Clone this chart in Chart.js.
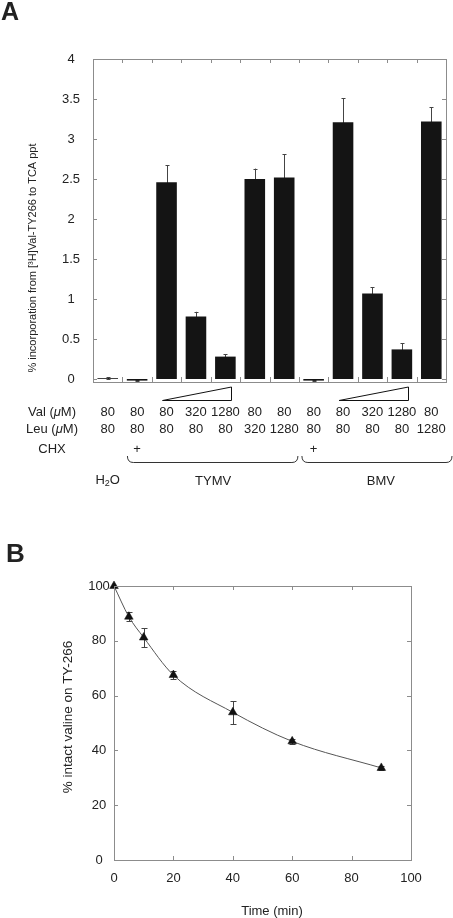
<!DOCTYPE html>
<html>
<head>
<meta charset="utf-8">
<script src="https://cdn.jsdelivr.net/npm/chart.js@4.4.1/dist/chart.umd.min.js"></script>
<style>
  body { margin: 0; background: #fff; }
  #wrapA { position: absolute; left: 0; top: 0; width: 453px; height: 520px; }
  #wrapB { position: absolute; left: 0; top: 520px; width: 453px; height: 398px; }
</style>
</head>
<body>
<div id="wrapA"><canvas id="chartA"></canvas></div>
<div id="wrapB"><canvas id="chartB"></canvas></div>
<script>
// --- Panel A data ---
const conditions = ['H2O', 'TYMV+CHX', 'TYMV', 'TYMV', 'TYMV', 'TYMV', 'TYMV', 'BMV+CHX', 'BMV', 'BMV', 'BMV', 'BMV'];
const incorporation = [0.01, -0.02, 2.46, 0.78, 0.28, 2.50, 2.52, -0.02, 3.21, 1.07, 0.37, 3.22];
const incorporationErr = [0.015, 0.01, 0.21, 0.06, 0.03, 0.13, 0.29, 0.01, 0.30, 0.08, 0.08, 0.18];
const valConc = ['80', '80', '80', '320', '1280', '80', '80', '80', '80', '320', '1280', '80'];
const leuConc = ['80', '80', '80', '80', '80', '320', '1280', '80', '80', '80', '80', '1280'];
const chxFlags = ['', '+', '', '', '', '', '', '+', '', '', '', ''];
const yTicksA = [0, 0.5, 1, 1.5, 2, 2.5, 3, 3.5, 4];

// --- Panel B data ---
const timeMin = [0, 5, 10, 20, 40, 60, 90];
const intactValine = [100, 88.8, 81.2, 67.5, 53.9, 43.3, 33.6];
const intactErr = [0, 1.7, 3.6, 1.5, 4.1, 1.0, 0.7];
const xTicksB = [0, 20, 40, 60, 80, 100];
const yTicksB = [0, 20, 40, 60, 80, 100];

const FONT = '"Liberation Sans", Arial, Helvetica, sans-serif';
const TEXT = '#222';
const AXIS = '#8c8c8c';

// draws pieces of text (some italic) centred on cx
function drawMixed(ctx, parts, cx, y, size) {
    let widths = parts.map(p => {
        ctx.font = (p.italic ? 'italic ' : '') + size + 'px ' + FONT;
        return ctx.measureText(p.t).width;
    });
    let x = cx - widths.reduce((s, w) => s + w, 0) / 2;
    ctx.textAlign = 'left';
    parts.forEach((p, i) => {
        ctx.font = (p.italic ? 'italic ' : '') + size + 'px ' + FONT;
        ctx.fillText(p.t, x, y);
        x += widths[i];
    });
}

function frame(ctx, a) {
    ctx.strokeStyle = AXIS;
    ctx.lineWidth = 1;
    ctx.strokeRect(Math.round(a.left) + 0.5, Math.round(a.top) + 0.5,
        Math.round(a.right - a.left), Math.round(a.bottom - a.top));
}

// --- Panel A plugin: frame, ticks, error bars, table underneath ---
const panelA = {
    id: 'panelA',
    beforeDatasetsDraw(chart) {
        const { ctx, scales: { y } } = chart;
        const meta = chart.getDatasetMeta(0);
        ctx.save();
        ctx.strokeStyle = '#444';
        ctx.lineWidth = 1;
        meta.data.forEach((bar, i) => {
            const v = incorporation[i], e = incorporationErr[i];
            const yt = y.getPixelForValue(v + e), yb = y.getPixelForValue(v - e);
            const x = Math.round(bar.x) + 0.5;
            ctx.beginPath();
            ctx.moveTo(x, yt); ctx.lineTo(x, yb);
            ctx.moveTo(x - 2, Math.round(yt) + 0.5); ctx.lineTo(x + 2, Math.round(yt) + 0.5);
            ctx.moveTo(x - 2, Math.round(yb) + 0.5); ctx.lineTo(x + 2, Math.round(yb) + 0.5);
            ctx.stroke();
        });
        ctx.restore();
    },
    afterDraw(chart) {
        const { ctx, chartArea: a, scales: { x, y } } = chart;
        ctx.save();
        frame(ctx, a);
        // inward ticks
        ctx.beginPath();
        for (let i = 0; i <= conditions.length; i++) {
            const px = Math.round(x.getPixelForValue(i - 0.5)) + 0.5;
            ctx.moveTo(px, a.top); ctx.lineTo(px, a.top + 4);
            ctx.moveTo(px, a.bottom); ctx.lineTo(px, a.bottom - 5);
        }
        yTicksA.forEach(v => {
            const py = Math.round(y.getPixelForValue(v)) + 0.5;
            ctx.moveTo(a.left, py); ctx.lineTo(a.left + 4, py);
            ctx.moveTo(a.right, py); ctx.lineTo(a.right - 4, py);
        });
        ctx.stroke();

        ctx.fillStyle = TEXT;
        ctx.font = '13px ' + FONT;
        ctx.textAlign = 'center';
        ctx.textBaseline = 'middle';
        yTicksA.forEach(v => ctx.fillText(String(v), 71, y.getPixelForValue(v)));

        // y title
        ctx.save();
        ctx.translate(33, 258);
        ctx.rotate(-Math.PI / 2);
        ctx.font = '11px ' + FONT;
        ctx.fillText('% incorporation from [\u00B3H]Val-TY266 to TCA ppt', 0, 0);
        ctx.restore();

        // panel letter
        ctx.font = 'bold 25px ' + FONT;
        ctx.textAlign = 'left';
        ctx.textBaseline = 'alphabetic';
        ctx.fillText('A', 1, 20);

        // concentration wedges
        ctx.strokeStyle = '#111';
        [[2, 4], [8, 10]].forEach(([s, e]) => {
            const x1 = x.getPixelForValue(s) - 4, x2 = Math.round(x.getPixelForValue(e) + 6) + 0.5;
            ctx.beginPath();
            ctx.moveTo(x1, 400.5); ctx.lineTo(x2, 400.5); ctx.lineTo(x2, 387); ctx.closePath();
            ctx.stroke();
        });

        // table rows
        ctx.textBaseline = 'middle';
        ctx.textAlign = 'center';
        ctx.font = '13px ' + FONT;
        conditions.forEach((c, i) => {
            const cx = x.getPixelForValue(i);
            ctx.fillText(valConc[i], cx, 412);
            ctx.fillText(leuConc[i], cx, 429);
            if (chxFlags[i]) ctx.fillText(chxFlags[i], cx, 449);
        });
        drawMixed(ctx, [{ t: 'Val (' }, { t: '\u03BC', italic: true }, { t: 'M)' }], 52, 412, 13);
        drawMixed(ctx, [{ t: 'Leu (' }, { t: '\u03BC', italic: true }, { t: 'M)' }], 52, 429, 13);
        ctx.textAlign = 'center';
        ctx.font = '13px ' + FONT;
        ctx.fillText('CHX', 52, 449);

        // braces
        const b1 = x.getPixelForValue(0.5) + 5, b2 = x.getPixelForValue(6.5), b3 = b2 + 3, b4 = a.right + 6;
        ctx.strokeStyle = '#333';
        [[b1, b2 - 1], [b3, b4]].forEach(([l, r]) => {
            ctx.beginPath();
            ctx.moveTo(l, 456);
            ctx.quadraticCurveTo(l, 462.5, l + 6, 462.5);
            ctx.lineTo(r - 6, 462.5);
            ctx.quadraticCurveTo(r, 462.5, r, 456);
            ctx.stroke();
        });

        // group names
        ctx.font = '13px ' + FONT;
        ctx.textAlign = 'center';
        ctx.fillText('TYMV', (b1 + b2) / 2, 481);
        ctx.fillText('BMV', (b3 + b4) / 2 + 4, 481);
        // H2O with subscript
        const hx = x.getPixelForValue(0);
        ctx.textAlign = 'left';
        const wH = ctx.measureText('H').width, wO = ctx.measureText('O').width;
        ctx.font = '9px ' + FONT;
        const w2 = ctx.measureText('2').width;
        let sx = hx - (wH + w2 + wO) / 2;
        ctx.font = '13px ' + FONT;
        ctx.fillText('H', sx, 480);
        ctx.font = '9px ' + FONT;
        ctx.fillText('2', sx + wH, 484);
        ctx.font = '13px ' + FONT;
        ctx.fillText('O', sx + wH + w2, 480);
        ctx.restore();
    }
};

new Chart(document.getElementById('chartA'), {
    type: 'bar',
    data: {
        labels: conditions,
        datasets: [{
            data: incorporation,
            backgroundColor: '#141414',
            borderWidth: 0,
            categoryPercentage: 0.7,
            barPercentage: 1
        }]
    },
    options: {
        responsive: true,
        maintainAspectRatio: false,
        animation: false,
        layout: { padding: { left: 93, top: 59, right: 7, bottom: 138 } },
        plugins: { legend: { display: false }, tooltip: { enabled: false } },
        scales: {
            x: { display: false },
            y: { display: false, min: -0.0375, max: 4 }
        }
    },
    plugins: [panelA]
});

// --- Panel B plugin ---
const panelB = {
    id: 'panelB',
    beforeDatasetsDraw(chart) {
        const { ctx, scales: { x, y } } = chart;
        ctx.save();
        ctx.strokeStyle = '#444';
        ctx.lineWidth = 1;
        timeMin.forEach((t, i) => {
            if (!intactErr[i]) return;
            const px = Math.round(x.getPixelForValue(t)) + 0.5;
            const yt = Math.round(y.getPixelForValue(intactValine[i] + intactErr[i])) + 0.5;
            const yb = Math.round(y.getPixelForValue(intactValine[i] - intactErr[i])) + 0.5;
            ctx.beginPath();
            ctx.moveTo(px, yt); ctx.lineTo(px, yb);
            ctx.moveTo(px - 3, yt); ctx.lineTo(px + 3, yt);
            ctx.moveTo(px - 3, yb); ctx.lineTo(px + 3, yb);
            ctx.stroke();
        });
        ctx.restore();
    },
    afterDraw(chart) {
        const { ctx, chartArea: a, scales: { x, y } } = chart;
        ctx.save();
        frame(ctx, a);
        ctx.beginPath();
        xTicksB.slice(1, -1).forEach(v => {
            const px = Math.round(x.getPixelForValue(v)) + 0.5;
            ctx.moveTo(px, a.top); ctx.lineTo(px, a.top + 4);
            ctx.moveTo(px, a.bottom); ctx.lineTo(px, a.bottom - 4);
        });
        yTicksB.slice(1, -1).forEach(v => {
            const py = Math.round(y.getPixelForValue(v)) + 0.5;
            ctx.moveTo(a.left, py); ctx.lineTo(a.left + 4, py);
            ctx.moveTo(a.right, py); ctx.lineTo(a.right - 4, py);
        });
        ctx.stroke();

        ctx.fillStyle = TEXT;
        ctx.font = '13px ' + FONT;
        ctx.textAlign = 'center';
        ctx.textBaseline = 'middle';
        yTicksB.forEach(v => ctx.fillText(String(v), 99, y.getPixelForValue(v)));
        xTicksB.forEach(v => ctx.fillText(String(v), x.getPixelForValue(v), 358.5));
        ctx.fillText('Time (min)', 272, 391);

        ctx.save();
        ctx.translate(68, 197);
        ctx.rotate(-Math.PI / 2);
        ctx.font = '13.5px ' + FONT;
        ctx.fillText('% intact valine on TY-266', 0, 0);
        ctx.restore();

        ctx.font = 'bold 26px ' + FONT;
        ctx.textAlign = 'left';
        ctx.textBaseline = 'alphabetic';
        ctx.fillText('B', 6, 42);
        ctx.restore();
    }
};

new Chart(document.getElementById('chartB'), {
    type: 'line',
    data: {
        datasets: [{
            data: timeMin.map((t, i) => ({ x: t, y: intactValine[i] })),
            borderColor: '#555',
            borderWidth: 1,
            cubicInterpolationMode: 'monotone',
            pointStyle: 'triangle',
            pointRadius: 5,
            pointBackgroundColor: '#111',
            pointBorderColor: '#111',
            pointBorderWidth: 0.5,
            clip: false
        }]
    },
    options: {
        responsive: true,
        maintainAspectRatio: false,
        animation: false,
        layout: { padding: { left: 114, top: 66, right: 42, bottom: 58 } },
        plugins: { legend: { display: false }, tooltip: { enabled: false } },
        scales: {
            x: { type: 'linear', display: false, min: 0, max: 100 },
            y: { display: false, min: 0, max: 100 }
        }
    },
    plugins: [panelB]
});
</script>
</body>
</html>
